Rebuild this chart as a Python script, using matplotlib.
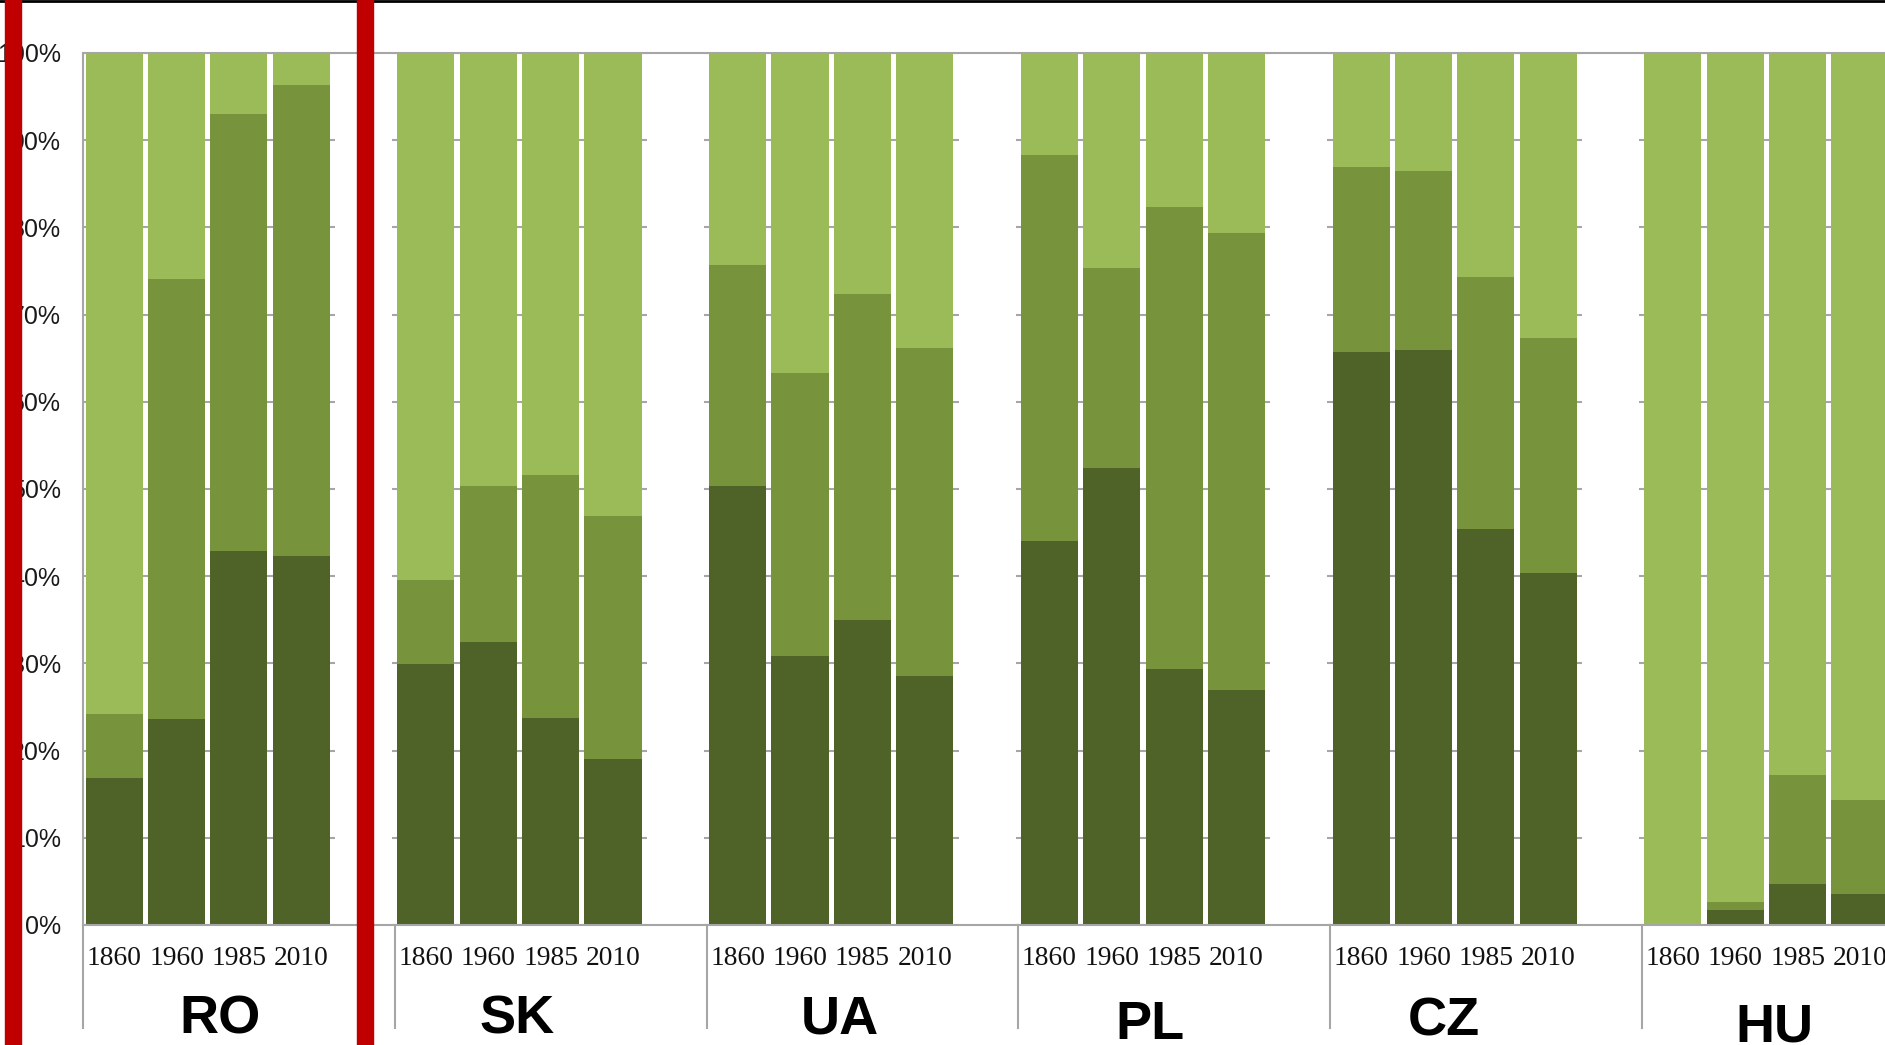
import matplotlib
matplotlib.use("Agg")
import matplotlib.pyplot as plt
from matplotlib.patches import Rectangle
from matplotlib.lines import Line2D
import numpy as np

# datos (porcentajes)
paises = ["RO", "SK", "UA", "PL", "CZ", "HU"]
anios = ["1860", "1960", "1985", "2010"]

# capa inferior (verde oscuro)
oscuro = [
    [16.9, 23.6, 42.9, 42.3],   # RO
    [29.9, 32.4, 23.7, 19.0],   # SK
    [50.3, 30.9, 35.0, 28.6],   # UA
    [44.0, 52.4, 29.4, 26.9],   # PL
    [65.7, 65.9, 45.4, 40.4],   # CZ
    [0.0, 1.7, 4.7, 3.6],       # HU
]
# capa media (verde medio)
medio = [
    [7.3, 50.5, 50.1, 54.0],
    [9.7, 17.9, 27.9, 27.9],
    [25.4, 32.4, 37.4, 37.6],
    [44.3, 22.9, 52.9, 52.5],
    [21.2, 20.6, 28.9, 26.9],
    [0.0, 0.9, 12.5, 10.7],
]

c_oscuro = "#4F6228"
c_medio = "#77933C"
c_claro = "#9BBB59"
gris = "#A6A6A6"

W, H = 1885, 1045
fig = plt.figure(figsize=(W / 100, H / 100), dpi=100)

ax_left = 83 / W
ax_bottom = (H - 925) / H
ax_height = (925 - 53) / H
slot = 62.35
ax = fig.add_axes([ax_left, ax_bottom, 30 * slot / W, ax_height])

# posicion de las etiquetas de pais (px: centro x, linea base y), como en la captura
etiq_x = [220, 517.5, 839.5, 1149.5, 1444, 1774]
etiq_y = [1034, 1034, 1034, 1039, 1036, 1041]

ancho = 0.915
for g, pais in enumerate(paises):
    x = np.arange(4) + 5 * g
    d = np.array(oscuro[g]) / 100
    m = np.array(medio[g]) / 100
    claro = 1 - d - m
    ax.bar(x, d, width=ancho, color=c_oscuro, linewidth=0)
    ax.bar(x, m, bottom=d, width=ancho, color=c_medio, linewidth=0)
    ax.bar(x, claro, bottom=d + m, width=ancho, color=c_claro, linewidth=0)
    # hueco entre paises (barra en blanco, como en Excel)
    ax.bar(5 * g + 4, 1, width=ancho, color="white", linewidth=0)

    for k, a in enumerate(anios):
        ax.text(5 * g + k, -0.038, a, transform=ax.get_xaxis_transform(),
                ha="center", va="center", fontsize=19.8, family="Liberation Serif",
                color="#111111")
    fig.text(etiq_x[g] / W, 1 - etiq_y[g] / H, pais, ha="center", va="baseline",
             fontsize=39, fontweight="bold", family="Liberation Sans", color="black")
    # separadores de grupo bajo el eje
    ax.plot([5 * g - 0.5, 5 * g - 0.5], [0, -0.118], color=gris, lw=1.5,
            transform=ax.get_xaxis_transform(), clip_on=False)

ax.set_xlim(-0.5, 29.5)
ax.set_ylim(0, 1)
ax.set_yticks(np.arange(0, 1.01, 0.1))
ax.set_yticklabels([f"{int(round(v * 100))}%" for v in np.arange(0, 1.01, 0.1)],
                   fontsize=18, family="Liberation Sans", color="#1a1a1a")
ax.set_xticks([])
ax.tick_params(axis="y", length=0, pad=16)
ax.set_axisbelow(True)
ax.yaxis.grid(True, color=gris, lw=1.5)
for lado in ["left", "top", "bottom"]:
    ax.spines[lado].set_color(gris)
    ax.spines[lado].set_linewidth(1.5)
ax.spines["right"].set_visible(False)

# marco del recorte: linea negra arriba y barras rojas
fig.add_artist(Line2D([0, 1], [1 - 1 / H, 1 - 1 / H], color="black", lw=2,
                      transform=fig.transFigure))
for x0 in [5, 357]:
    fig.add_artist(Rectangle((x0 / W, 0), 16 / W, 1, color="#C00000",
                             transform=fig.transFigure, zorder=10))

fig.savefig("out.png", dpi=100)
